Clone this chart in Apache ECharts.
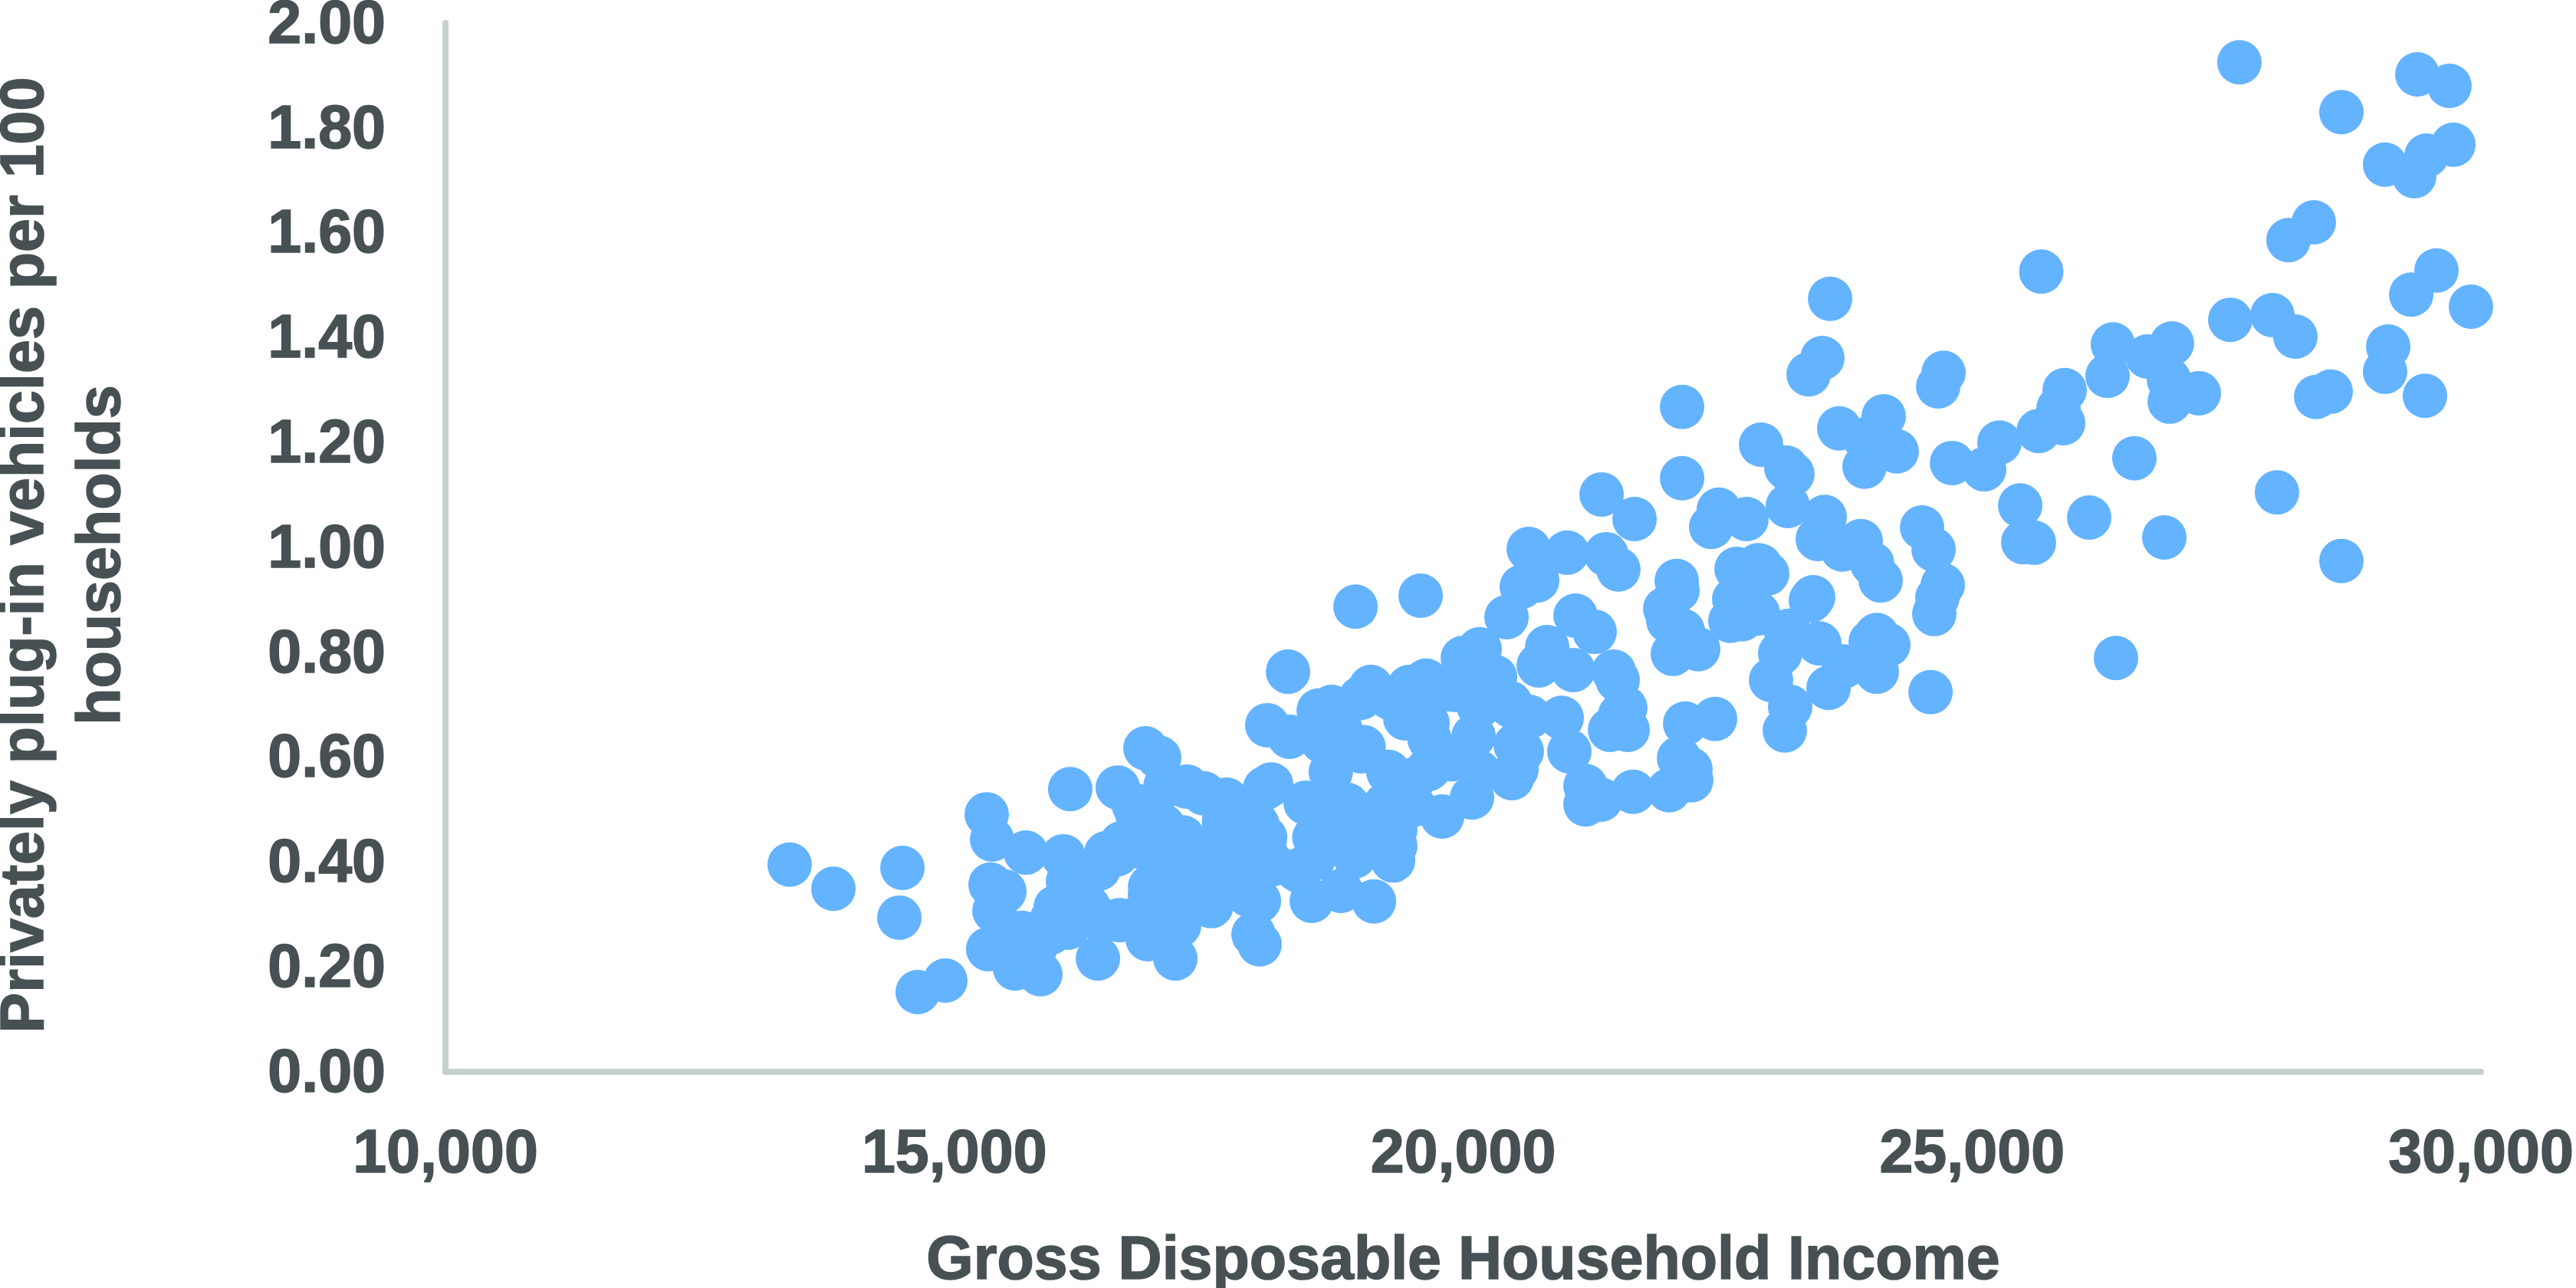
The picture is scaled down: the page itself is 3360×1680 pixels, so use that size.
<!DOCTYPE html>
<html>
<head>
<meta charset="utf-8">
<title>Plug-in vehicles vs income</title>
<script src="https://cdn.jsdelivr.net/npm/echarts@6/dist/echarts.min.js"></script>
<style>
  html, body { margin: 0; padding: 0; background: #fff; }
  #chart { width: 3360px; height: 1680px; }
</style>
</head>
<body>
<div id="chart"></div>
<script>
// Gross disposable household income
const income = [
  27627, 29375, 29691, 28629, 29729, 29465, 29058, 29345, 28358, 28109,
  29563, 29315, 29902, 27537, 27951, 28177, 29089, 29058, 29450, 28524,
  28381, 26384, 26331, 26964, 26723, 26934, 26942, 27228, 26595, 27996,
  28629, 25680, 22151, 22151,
  23605, 23529, 23394, 24720, 24667, 23695, 24132, 23951, 23944, 24260,
  24803, 25119, 25269, 25654, 25910, 25895, 25849, 25473, 25503, 25608,
  26151, 26414, 26889, 24509, 24622, 24712, 24659, 24629, 24592, 23552,
  23484, 23725, 23906, 24019, 24102, 23175, 23235, 23190, 22927, 22987,
  22897, 23439, 23416, 23499, 23175, 23115, 22897, 23740, 24064, 24177,
  24004, 24064, 23590, 23025,
  21360, 21684, 20644, 21021, 20576, 20727, 21405, 21525, 20426, 21104,
  21292, 20825, 20742, 21081, 21480, 21518, 22098, 22106, 21985, 22015,
  22060, 22309, 22158, 22437, 22512, 22784, 22686, 22919, 22663, 22723,
  22625, 22738, 23198, 23213, 23160, 22181, 22475, 22121, 22233, 22241,
  22023, 21669, 21202, 21202, 21352, 21593, 21541, 21443, 21616, 20968,
  21043, 20576, 20524, 20479, 20652, 20463,
  18942, 19582, 18279, 18075, 18294, 18580, 18708, 18994, 19093, 19281,
  19469, 19635, 19996, 20162, 20313, 19921, 19650, 19431, 18994, 18791,
  18618, 20102, 20516, 20087, 19793, 19507, 19657, 19883, 18113, 18452,
  17977, 17676, 17849, 19235, 19333, 19333, 19311, 18806, 18678, 19055,
  18053, 18527, 18934,
  16878, 17013, 16606, 16139, 17074, 17284, 17450, 17661, 16847, 16795,
  16644, 16493, 17993, 17940, 18000, 18512, 18799, 19123, 16411, 17172,
  16900, 17209, 17525, 17315, 17051, 16750, 16622, 16320, 16418, 16298,
  16923, 17172, 17428, 17623, 17804, 17977, 17925, 18128, 17051, 17224,
  17578, 17051, 17428,
  13382, 13812, 14490, 14460, 14640, 14912, 15318, 15371, 15703, 15356,
  15492, 15394, 15333, 15597, 15846, 16072, 15944, 15793, 15996, 16117,
  15665, 16117,
  // inside the dense cluster, where single dots cannot be told apart
  16198, 16601, 16763, 17247, 17650, 18377, 18538, 19103, 19506, 19264,
  18699, 19022, 19668, 20152, 20475, 20152, 19829, 18054, 15956, 16440,
  16924, 17893, 17570, 18054, 18861
];
// Privately plug-in vehicles per 100 households, same order as income
const vehiclesPer100 = [
  1.925, 1.902, 1.880, 1.830, 1.768, 1.747, 1.730, 1.708, 1.620, 1.586,
  1.528, 1.482, 1.459, 1.434, 1.443, 1.402, 1.383, 1.335, 1.289, 1.297,
  1.287, 1.387, 1.327, 1.389, 1.364, 1.320, 1.278, 1.294, 1.170, 1.105,
  0.974, 1.526, 1.268, 1.132,
  1.474, 1.361, 1.330, 1.333, 1.307, 1.227, 1.250, 1.206, 1.154, 1.183,
  1.161, 1.149, 1.200, 1.222, 1.300, 1.237, 1.265, 1.080, 1.010, 1.009,
  1.057, 0.789, 1.019, 1.038, 0.996, 0.928, 0.904, 0.873, 0.724, 1.058,
  1.016, 0.996, 1.012, 0.969, 0.937, 1.152, 1.140, 1.079, 1.196, 0.950,
  0.966, 0.905, 0.899, 0.817, 0.838, 0.798, 0.874, 0.773, 0.833, 0.814,
  0.820, 0.763, 0.732, 0.747,
  1.101, 1.054, 0.997, 0.990, 0.925, 0.937, 0.987, 0.958, 0.867, 0.870,
  0.839, 0.810, 0.775, 0.766, 0.763, 0.747, 0.936, 0.918, 0.883, 0.860,
  0.797, 0.806, 0.841, 1.039, 1.072, 1.054, 0.959, 0.965, 0.901, 0.877,
  0.860, 0.863, 0.841, 0.696, 0.651, 0.664, 0.673, 0.598, 0.577, 0.556,
  0.537, 0.534, 0.545, 0.510, 0.519, 0.694, 0.680, 0.652, 0.652, 0.675,
  0.611, 0.611, 0.577, 0.560, 0.677, 0.703,
  0.887, 0.908, 0.763, 0.661, 0.639, 0.689, 0.696, 0.713, 0.734, 0.713,
  0.734, 0.746, 0.789, 0.806, 0.753, 0.728, 0.665, 0.674, 0.611, 0.655,
  0.630, 0.640, 0.623, 0.523, 0.487, 0.557, 0.577, 0.596, 0.548, 0.513,
  0.472, 0.519, 0.504, 0.509, 0.461, 0.431, 0.403, 0.509, 0.461, 0.461,
  0.421, 0.406, 0.411,
  0.617, 0.599, 0.542, 0.539, 0.545, 0.544, 0.531, 0.518, 0.428, 0.494,
  0.436, 0.417, 0.326, 0.262, 0.243, 0.326, 0.345, 0.325, 0.216, 0.216,
  0.253, 0.279, 0.316, 0.348, 0.300, 0.289, 0.289, 0.314, 0.387, 0.377,
  0.338, 0.387, 0.411, 0.387, 0.461, 0.455, 0.396, 0.396, 0.469, 0.425,
  0.436, 0.348, 0.363,
  0.395, 0.349, 0.389, 0.294, 0.152, 0.174, 0.491, 0.443, 0.418, 0.357,
  0.344, 0.307, 0.234, 0.197, 0.186, 0.411, 0.265, 0.235, 0.314, 0.363,
  0.265, 0.275,
  0.384, 0.415, 0.509, 0.447, 0.478, 0.384, 0.447, 0.447, 0.509, 0.572,
  0.572, 0.619, 0.635, 0.697, 0.697, 0.572, 0.729, 0.541, 0.290, 0.290,
  0.353, 0.337, 0.353, 0.447, 0.509
];
const xAxisTitle = "Gross Disposable Household Income";
const yAxisTitle = "Privately plug-in vehicles per 100\nhouseholds";

const textColor = "#475052";
const lineColor = "#c5d0cd";
const fontFamily = '"Liberation Sans", Arial, sans-serif';

// the source text is heavier than Liberation bold, a thin outline brings it closer
const boldText = {
  color: textColor,
  fontSize: 79,
  fontWeight: "bold",
  fontFamily,
  textBorderColor: textColor,
  textBorderWidth: 1.5,
};

const chart = echarts.init(document.getElementById("chart"));
chart.setOption({
  animation: false,
  backgroundColor: "#fff",
  grid: { left: 581, right: 124, top: 30, bottom: 282, outerBoundsMode: "none" },
  xAxis: {
    type: "value",
    min: 10000,
    max: 30000,
    interval: 5000,
    offset: 2,
    name: xAxisTitle,
    nameLocation: "middle",
    nameGap: 207,
    nameTextStyle: { ...boldText },
    axisLine: { show: true, lineStyle: { color: lineColor, width: 8 } },
    axisTick: { show: false },
    splitLine: { show: false },
    axisLabel: {
      ...boldText,
      margin: 68,
      showMinLabel: true,
      showMaxLabel: true,
      formatter: (v) => v.toLocaleString("en-US"),
    },
  },
  yAxis: {
    type: "value",
    min: 0,
    max: 2,
    interval: 0.2,
    name: yAxisTitle,
    nameLocation: "middle",
    nameGap: 397,
    nameRotate: 90,
    nameTextStyle: { ...boldText, lineHeight: 100, padding: [0, 20, 0, 0] },
    axisLine: { show: true, onZero: false, lineStyle: { color: lineColor, width: 8 } },
    axisTick: { show: false },
    splitLine: { show: false },
    axisLabel: {
      ...boldText,
      margin: 78,
      // digits sit a little high in the line box, push them back onto the tick
      formatter: (v) => "{tick|" + v.toFixed(2) + "}",
      rich: { tick: { ...boldText, padding: [8, 0, 0, 0] } },
    },
  },
  series: [
    {
      type: "scatter",
      data: income.map((x, i) => [x, vehiclesPer100[i]]),
      symbol: "circle",
      symbolSize: 58,
      itemStyle: { color: "#63b3ff", opacity: 1 },
      silent: true,
    },
  ],
});
</script>
</body>
</html>
